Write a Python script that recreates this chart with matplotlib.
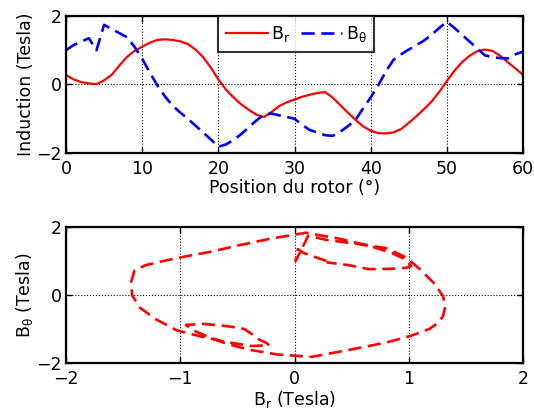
import numpy as np
import matplotlib
matplotlib.use('Agg')
import matplotlib.pyplot as plt

plt.rcParams['font.family'] = ['DejaVu Sans']
plt.rcParams['mathtext.default'] = 'regular'

# rotor position (deg)
pos = list(range(0, 61))

# radial induction B_r (Tesla)
br = [0.28, 0.15, 0.07, 0.03, 0.01, 0.12, 0.28, 0.55, 0.80, 0.98,
      1.10, 1.22, 1.30, 1.32, 1.30, 1.26, 1.18, 1.02, 0.80, 0.50,
      0.15, -0.15, -0.38, -0.58, -0.74, -0.88, -0.95, -0.80, -0.63, -0.52,
      -0.44, -0.36, -0.30, -0.25, -0.22, -0.38, -0.60, -0.82, -1.03, -1.22,
      -1.35, -1.42, -1.43, -1.40, -1.30, -1.12, -0.93, -0.72, -0.50, -0.22,
      0.10, 0.40, 0.65, 0.84, 0.97, 1.02, 0.98, 0.84, 0.65, 0.47, 0.28]

# tangential induction B_theta (Tesla)
bt = [1.00, 1.15, 1.25, 1.35, 1.00, 1.74, 1.62, 1.50, 1.38, 1.10,
      0.75, 0.35, -0.03, -0.35, -0.62, -0.82, -1.00, -1.20, -1.40, -1.60,
      -1.82, -1.75, -1.62, -1.45, -1.25, -1.05, -0.88, -0.85, -0.90, -0.95,
      -1.00, -1.18, -1.33, -1.40, -1.48, -1.50, -1.38, -1.22, -1.04, -0.70,
      -0.38, -0.02, 0.38, 0.72, 0.88, 1.02, 1.15, 1.28, 1.45, 1.65,
      1.83, 1.65, 1.45, 1.25, 1.05, 0.85, 0.80, 0.77, 0.76, 0.88, 0.96]

fig = plt.figure(figsize=(5.34, 4.18), dpi=100)
ax1 = fig.add_axes([0.1236, 0.634, 0.8558, 0.3278])
ax2 = fig.add_axes([0.1236, 0.1316, 0.8558, 0.3254])

fs = 12.5

ax1.plot(pos, br, '-', color='red', lw=1.6, label='B$_r$')
ax1.plot(pos, bt, '--', color='blue', lw=1.9, dashes=(5, 2.5), label='B$_θ$')
ax1.set_xlim(0, 60)
ax1.set_ylim(-2, 2)
ax1.set_xticks([0, 10, 20, 30, 40, 50, 60])
ax1.set_yticks([-2, 0, 2])
ax1.set_xlabel('Position du rotor (°)', fontsize=fs, labelpad=1)
ax1.set_ylabel('Induction (Tesla)', fontsize=fs, labelpad=1)
leg = ax1.legend(loc='upper left', bbox_to_anchor=(0.333, 1.0), ncol=2, fontsize=fs,
                 frameon=True, fancybox=False, edgecolor='black', handlelength=2.4,
                 columnspacing=0.6, handletextpad=0.2, borderpad=0.45, borderaxespad=0.0)
leg.get_frame().set_linewidth(1.5)

ax2.plot(br, bt, '--', color='red', lw=1.9, dashes=(5, 2.5))
ax2.set_xlim(-2, 2)
ax2.set_ylim(-2, 2)
ax2.set_xticks([-2, -1, 0, 1, 2])
ax2.set_yticks([-2, 0, 2])
ax2.set_xlabel('B$_r$ (Tesla)', fontsize=fs, labelpad=1)
ax2.set_ylabel('B$_θ$ (Tesla)', fontsize=fs, labelpad=1)

for ax in (ax1, ax2):
    ax.grid(True, color='black', linestyle=':', linewidth=0.8)
    ax.tick_params(direction='in', top=True, right=True, labelsize=fs, length=4, width=1)
    ax.tick_params(axis='x', pad=5)
    ax.tick_params(axis='y', pad=3)
    for s in ax.spines.values():
        s.set_linewidth(1.6)

fig.savefig('out.png', dpi=100)
